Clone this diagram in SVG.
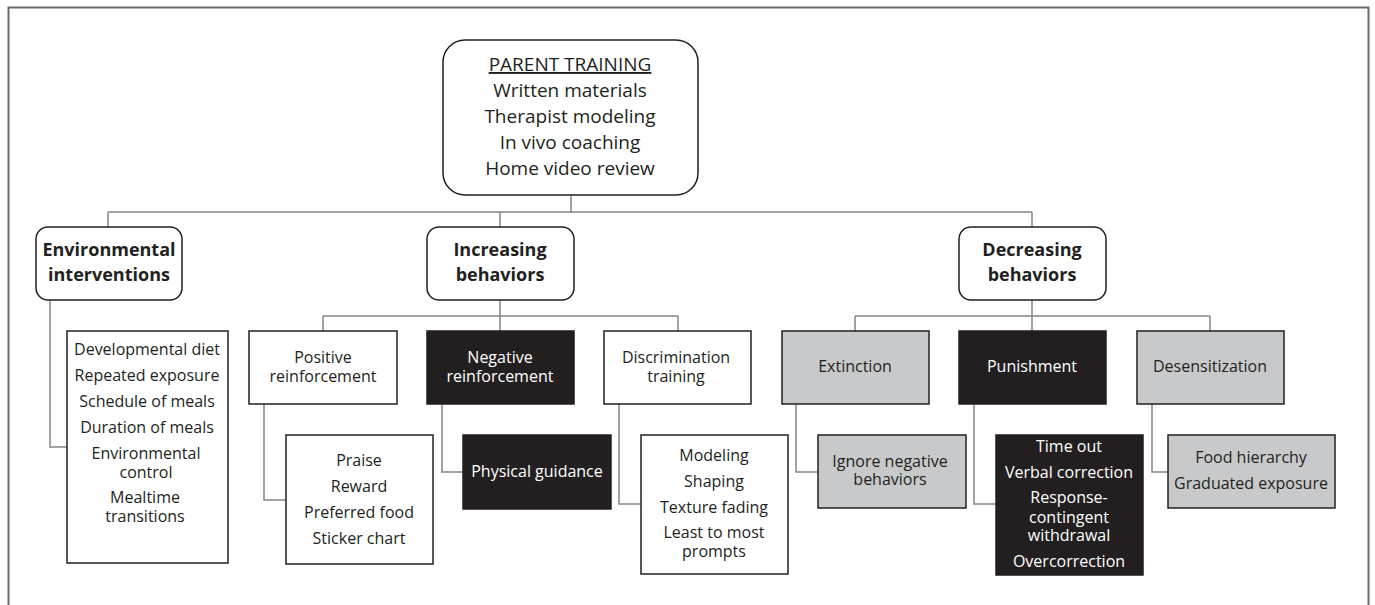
<svg xmlns="http://www.w3.org/2000/svg" width="1375" height="605" viewBox="0 0 1375 605">
<style>
text{font-family:"Open Sans","Noto Sans","Liberation Sans",sans-serif;font-size:16px;text-anchor:middle;fill:#231f20}
.b{font-weight:bold;font-size:18px}
.p{font-size:19px}
.w{fill:#ffffff}
.box{fill:#ffffff;stroke:#231f20;stroke-width:1.5}
.blk{fill:#231f20;stroke:#231f20;stroke-width:1.5}
.gry{fill:#c8c9cb;stroke:#231f20;stroke-width:1.5}
.con{fill:none;stroke:#858585;stroke-width:1.5}
</style>
<rect x="0" y="0" width="1375" height="605" fill="#ffffff"/>
<path d="M8.5 610 V7.5 H1368.5 V610" fill="none" stroke="#6a6a6a" stroke-width="2"/>
<g id="connectors">
<path class="con" d="M571 195 V212 M108 212 H1032 M108 212 V227 M500 212 V227 M1032 212 V227"/>
<path class="con" d="M50 300 V447 H67"/>
<path class="con" d="M500 300 V331 M323 316 H678 M323 316 V331 M678 316 V331"/>
<path class="con" d="M264 404 V500 H286 M442 404 V472 H463 M619 404 V504 H641"/>
<path class="con" d="M1032 300 V331 M855 316 H1210 M855 316 V331 M1210 316 V331"/>
<path class="con" d="M796 404 V472 H818 M974 404 V504 H996 M1152 404 V472 H1168"/>
</g>
<g id="parent">
<rect class="box" x="443" y="40" width="255" height="155" rx="22"/>
<text class="p" x="570" y="71" text-decoration="underline">PARENT TRAINING</text>
<text class="p" x="570" y="97">Written materials</text>
<text class="p" x="570" y="123">Therapist modeling</text>
<text class="p" x="570" y="149">In vivo coaching</text>
<text class="p" x="570" y="175">Home video review</text>
</g>
<g id="env">
<rect class="box" x="36" y="227" width="146" height="73" rx="12"/>
<text class="b" x="109" y="256">Environmental<tspan x="109" dy="25">interventions</tspan></text>
</g>
<g id="env-list">
<rect class="box" x="67" y="331" width="161" height="232"/>
<text x="147" y="355">Developmental diet</text>
<text x="147" y="381">Repeated exposure</text>
<text x="147" y="407">Schedule of meals</text>
<text x="147" y="433">Duration of meals</text>
<text x="146" y="459">Environmental<tspan x="146" dy="19">control</tspan></text>
<text x="145" y="503">Mealtime<tspan x="145" dy="19">transitions</tspan></text>
</g>
<g id="inc">
<rect class="box" x="427" y="227" width="147" height="73" rx="12"/>
<text class="b" x="500" y="256">Increasing<tspan x="500" dy="25">behaviors</tspan></text>
</g>
<g id="pos">
<rect class="box" x="249" y="331" width="148" height="73"/>
<text x="323" y="363">Positive<tspan x="323" dy="19">reinforcement</tspan></text>
</g>
<g id="pos-list">
<rect class="box" x="286" y="435" width="147" height="129"/>
<text x="359" y="466">Praise</text>
<text x="359" y="492">Reward</text>
<text x="359" y="518">Preferred food</text>
<text x="359" y="544">Sticker chart</text>
</g>
<g id="neg">
<rect class="blk" x="427" y="331" width="147" height="73"/>
<text class="w" x="500" y="363">Negative<tspan x="500" dy="19">reinforcement</tspan></text>
</g>
<g id="phys">
<rect class="blk" x="463" y="435" width="148" height="74"/>
<text class="w" x="537" y="477">Physical guidance</text>
</g>
<g id="disc">
<rect class="box" x="604" y="331" width="147" height="73"/>
<text x="676" y="363">Discrimination<tspan x="676" dy="19">training</tspan></text>
</g>
<g id="disc-list">
<rect class="box" x="641" y="435" width="147" height="139"/>
<text x="714" y="461">Modeling</text>
<text x="714" y="487">Shaping</text>
<text x="714" y="513">Texture fading</text>
<text x="714" y="538">Least to most<tspan x="714" dy="19">prompts</tspan></text>
</g>
<g id="dec">
<rect class="box" x="959" y="227" width="147" height="73" rx="12"/>
<text class="b" x="1032" y="256">Decreasing<tspan x="1032" dy="25">behaviors</tspan></text>
</g>
<g id="ext">
<rect class="gry" x="782" y="331" width="147" height="73"/>
<text x="855" y="372">Extinction</text>
</g>
<g id="ignore">
<rect class="gry" x="818" y="435" width="148" height="73"/>
<text x="890" y="467">Ignore negative<tspan x="890" dy="18">behaviors</tspan></text>
</g>
<g id="pun">
<rect class="blk" x="959" y="331" width="147" height="73"/>
<text class="w" x="1032" y="372">Punishment</text>
</g>
<g id="pun-list">
<rect class="blk" x="996" y="435" width="147" height="140"/>
<text class="w" x="1069" y="452">Time out</text>
<text class="w" x="1069" y="478">Verbal correction</text>
<text class="w" x="1069" y="503">Response-<tspan x="1069" dy="20">contingent</tspan><tspan x="1069" dy="18">withdrawal</tspan></text>
<text class="w" x="1069" y="567">Overcorrection</text>
</g>
<g id="des">
<rect class="gry" x="1137" y="331" width="147" height="73"/>
<text x="1210" y="372">Desensitization</text>
</g>
<g id="food">
<rect class="gry" x="1168" y="435" width="167" height="73"/>
<text x="1251" y="463">Food hierarchy</text>
<text x="1251" y="489">Graduated exposure</text>
</g>
</svg>
